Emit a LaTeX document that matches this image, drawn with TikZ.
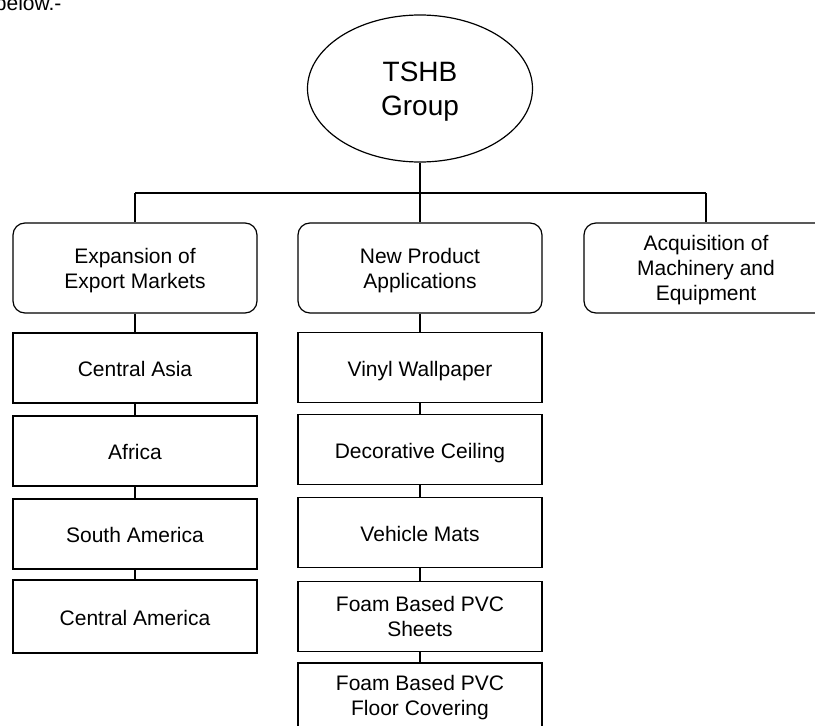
\documentclass[tikz,border=0pt]{standalone}
\usepackage{fontspec}
\setmainfont{Liberation Sans}
\usetikzlibrary{shapes.geometric}
\begin{document}
\begin{tikzpicture}[x=1pt, y=-1pt, line width=1.2pt,
        every node/.style={font=\fontsize{21}{25}\selectfont, align=center},
        topbox/.style={draw, rounded corners=12pt, minimum width=244pt, minimum height=90pt, inner sep=0pt, text depth=0pt},
        itembox/.style={draw, minimum width=244pt, minimum height=70pt, inner sep=0pt},
        linebox/.style={itembox, text height=20pt, text depth=3pt}]
        \useasboundingbox (0,0) rectangle (815,726);
        \node[anchor=base west] (intro) at (-9,10) {below.-};
        \node[draw, ellipse, minimum width=225pt, minimum height=147pt, inner sep=0pt, text depth=0pt,
            font=\fontsize{28}{34}\selectfont] (tshb) at (420,88.5) {TSHB\\Group};

        \node[topbox] (export) at (135,268) {Expansion of\\Export Markets};
        \node[topbox] (newprod) at (420,268) {New Product\\Applications};
        \node[topbox] (acquire) at (706,268) {Acquisition of\\Machinery and\\Equipment};

        \node[linebox] (casia) at (135,368) {Central Asia};
        \node[linebox] (africa) at (135,451) {Africa};
        \node[linebox] (samerica) at (135,534) {South America};
        \node[linebox, minimum height=73pt] (camerica) at (135,616.5) {Central America};

        \node[linebox] (vinyl) at (420,367.5) {Vinyl Wallpaper};
        \node[linebox] (ceiling) at (420,449.5) {Decorative Ceiling};
        \node[linebox] (mats) at (420,532.5) {Vehicle Mats};
        \node[itembox] (sheets) at (420,616.5) {Foam Based PVC\\Sheets};
        \node[itembox] (floor) at (420,698) {Foam Based PVC\\Floor Covering};

        \coordinate (joinL) at (135,193);
        \coordinate (joinR) at (706,193);
        \draw (joinL) -- (joinR);
        \draw (tshb.south) -- (newprod.north);
        \draw (joinL) -- (export.north);
        \draw (joinR) -- (acquire.north);

        \draw (export.south) -- (casia.north);
        \draw (casia.south) -- (africa.north);
        \draw (africa.south) -- (samerica.north);
        \draw (samerica.south) -- (camerica.north);

        \draw (newprod.south) -- (vinyl.north);
        \draw (vinyl.south) -- (ceiling.north);
        \draw (ceiling.south) -- (mats.north);
        \draw (mats.south) -- (sheets.north);
        \draw (sheets.south) -- (floor.north);
    \end{tikzpicture}
\end{document}
